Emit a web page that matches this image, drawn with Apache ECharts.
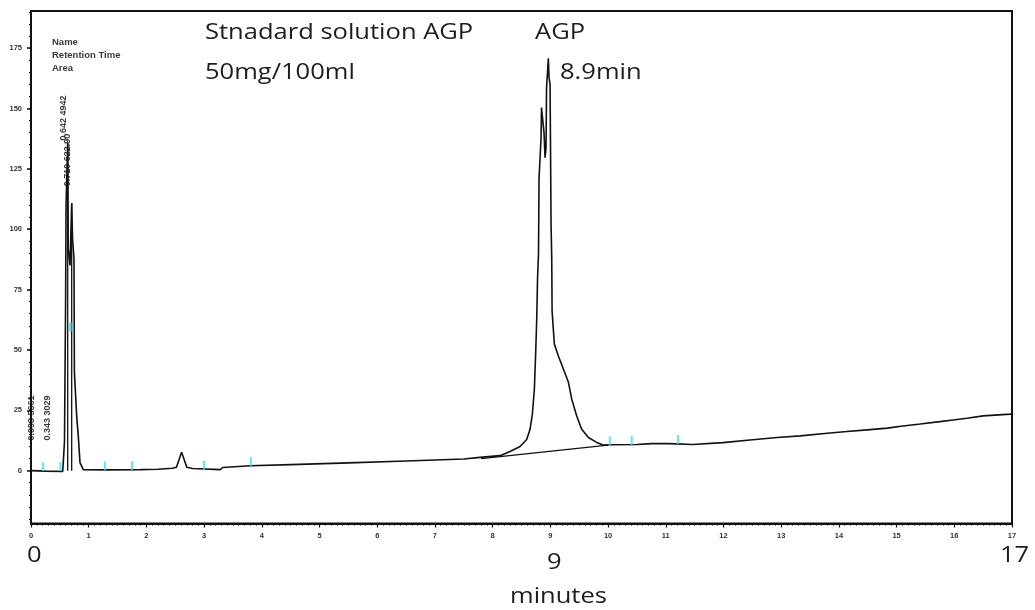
<!DOCTYPE html>
<html>
<head>
<meta charset="utf-8">
<script src="https://cdn.jsdelivr.net/npm/echarts@6/dist/echarts.min.js"></script>
<style>
html,body{margin:0;padding:0;background:#fff;}
#chart{width:1035px;height:610px;}
</style>
</head>
<body>
<div id="chart"></div>
<script>
// ---- data ----
const traceTime = [0,0.25,0.55,0.577,0.58,0.6,0.607,0.636,0.645,0.676,0.705,0.72,0.745,0.752,0.792,0.82,0.849,0.906,1.3,1.9,2.2,2.45,2.52,2.61,2.7,2.8,3.28,3.32,3.8,4.5,5.5,6.5,7.5,7.78,8.128,8.302,8.475,8.59,8.648,8.688,8.723,8.744,8.764,8.778,8.795,8.804,8.839,8.847,8.873,8.89,8.908,8.925,8.934,8.951,8.965,8.977,8.995,9.003,9.012,9.024,9.03,9.069,9.139,9.225,9.312,9.371,9.458,9.544,9.659,9.804,9.913,10.03,10.5,10.75,11.05,11.47,11.99,12.46,12.93,13.33,13.8,14.14,14.49,14.84,15.11,15.41,15.75,15.98,16.22,16.5,16.97,17];
const traceSignal = [0,-0.2,-0.3,-0.3,12,71,109.6,135.8,92,85,110.8,96,88,40.8,22.5,14.2,3.3,0.4,0.3,0.4,0.6,1.0,1.4,7.6,1.4,0.9,0.4,1.3,2.0,2.5,3.2,4.0,4.8,5.5,6.2,7.9,10.0,12.9,17.1,23.3,33.7,47.5,62.9,79.6,90,121,138,150.4,151.2,140,129.6,133.7,158.7,165,170.8,162.9,160,133.7,102.5,87.9,66.2,52.5,47.5,42.1,36.7,29.6,22.5,17.1,13.7,11.7,10.6,10.7,10.8,11.2,11.2,10.8,11.6,12.7,13.7,14.4,15.5,16.2,16.9,17.6,18.5,19.3,20.3,21.0,21.7,22.7,23.4,23.5];
const agpBaseTime = [7.8, 10.0];
const agpBaseLevel = [5.0, 10.6];
const dropTime = [0.636, 0.705];
const dropTop = [135.8, 110.8];
const markerTime = [0.21, 0.51, 1.28, 1.75, 3.0, 3.81, 10.03, 10.41, 11.21];
const markerLevel = [0, 0, 0.3, 0.4, 0.5, 2.0, 10.7, 10.8, 11.2];
const peakMarkerTime = [0.68];
const peakMarkerLevel = [59.5];
const yLabelValues = [0, 25, 50, 75, 100, 125, 150, 175];
const yMinorValues = [-20,-15,-10,-5,0,5,10,15,20,25,30,35,40,45,50,55,60,65,70,75,80,85,90,95,100,105,110,115,120,125,130,135,140,145,150,155,160,165,170,175,180,185,190];
const xTickLabels = ['0','1','2','3','4','5','6','7','8','9','10','11','12','13','14','15','16','17'];
const bigXLabels = ['0', '9', '17'];
const axisTitle = 'minutes';
const titleLines = ['Stnadard solution AGP', '50mg/100ml'];
const peakLines = ['AGP', '8.9min'];
const infoLines = ['Name', 'Retention Time', 'Area'];
const rotatedNotes = ['0.642 4942', '0.710 622.90', '0.093 5661', '0.343 3029'];

// ---- chart ----
const chart = echarts.init(document.getElementById('chart'), null, {renderer: 'canvas'});
const Y_MIN = -21.9, Y_MAX = 190.4;
const trace = traceTime.map((t, i) => [t, traceSignal[i]]);
const agpBase = agpBaseTime.map((t, i) => [t, agpBaseLevel[i]]);
const dropSeries = dropTime.map((t, i) => ({
  type: 'line', data: [[t, 0], [t, dropTop[i]]], symbol: 'none', silent: true,
  lineStyle: {color: '#111', width: 1.3}, z: 3
}));
const tinyFont = 'Liberation Sans';
const txtColor = '#1d1d1d';
const BIG = '22px "Open Sans"';
function bigText(str, x, y) {
  return {type: 'text', x: x, y: y, scaleX: 1.16,
    style: {text: str, font: BIG, fill: txtColor, align: 'left', verticalAlign: 'middle'}};
}
function tinyRot(str, x, y) {
  return {type: 'text', x: x, y: y, rotation: Math.PI / 2,
    style: {text: str, font: 'bold 9px "Liberation Sans"', fill: '#3a3a3a', align: 'center', verticalAlign: 'middle'}};
}
function tinyText(str, x, y) {
  return {type: 'text', x: x, y: y,
    style: {text: str, font: 'bold 9.5px "Liberation Sans"', fill: '#3a3a3a', align: 'left', verticalAlign: 'middle'}};
}

const graphics = [
  bigText(titleLines[0], 205, 33),
  bigText(titleLines[1], 205, 73),
  bigText(peakLines[0], 535, 33),
  bigText(peakLines[1], 560, 73),
  bigText(bigXLabels[0], 27, 556),
  bigText(bigXLabels[1], 547, 563),
  bigText(bigXLabels[2], 1000, 556),
  bigText(axisTitle, 510, 597),
  tinyText(infoLines[0], 52, 42),
  tinyText(infoLines[1], 52, 55),
  tinyText(infoLines[2], 52, 68),
  tinyRot(rotatedNotes[0], 64, 118),
  tinyRot(rotatedNotes[1], 68, 160),
  tinyRot(rotatedNotes[2], 32, 418),
  tinyRot(rotatedNotes[3], 48, 418)
];

const option = {
  animation: false,
  backgroundColor: '#fff',
  grid: {left: 31, right: 23, top: 11, bottom: 86.5, show: true, borderColor: '#111', borderWidth: 2, containLabel: false},
  xAxis: {
    type: 'value', min: 0, max: 17, interval: 1,
    axisLine: {show: true, onZero: false, lineStyle: {color: '#111', width: 2}},
    axisTick: {show: true, length: 4, lineStyle: {color: '#111', width: 1.2}},
    minorTick: {show: true, splitNumber: 10, length: 2, lineStyle: {color: '#111', width: 1}},
    splitLine: {show: false},
    axisLabel: {show: true, margin: 8, fontSize: 7.5, fontWeight: 'bold', fontFamily: tinyFont, color: '#333',
      formatter: (v) => xTickLabels[Math.round(v)] ?? ''}
  },
  yAxis: [
    {
      type: 'value', min: Y_MIN, max: Y_MAX,
      axisLine: {show: true, onZero: false, lineStyle: {color: '#111', width: 2}},
      axisTick: {show: true, length: 4, customValues: yLabelValues, lineStyle: {color: '#111', width: 1.5}},
      axisLabel: {show: true, customValues: yLabelValues, margin: 9, fontSize: 7.5, fontWeight: 'bold', fontFamily: tinyFont, color: '#333'},
      splitLine: {show: false}
    },
    {
      type: 'value', min: Y_MIN, max: Y_MAX, position: 'left',
      axisLine: {show: false},
      axisTick: {show: true, length: 2, customValues: yMinorValues, lineStyle: {color: '#111', width: 1.2}},
      axisLabel: {show: false},
      splitLine: {show: false}
    }
  ],
  graphic: graphics,
  series: [
    {type: 'line', name: 'signal', data: trace, symbol: 'none', silent: true,
      lineStyle: {color: '#111', width: 1.6}, z: 4},
    {type: 'line', name: 'agpBase', data: agpBase, symbol: 'none', silent: true,
      lineStyle: {color: '#111', width: 1.3}, z: 3},
    ...dropSeries,
    {type: 'scatter', data: markerTime.map((t, i) => [t, markerLevel[i]]), symbol: 'rect',
      symbolSize: [2, 9], symbolOffset: [0, -4], silent: true, itemStyle: {color: '#2ee3f2'}, z: 5},
    {type: 'scatter', data: peakMarkerTime.map((t, i) => [t, peakMarkerLevel[i]]), symbol: 'rect',
      symbolSize: [3, 9], silent: true, itemStyle: {color: '#2ee3f2'}, z: 6}
  ]
};
chart.setOption(option);
</script>
</body>
</html>
